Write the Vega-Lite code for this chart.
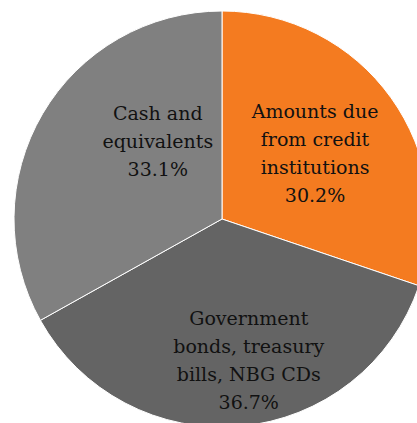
{
  "$schema": "https://vega.github.io/schema/vega-lite/v6.json",
  "width": 444,
  "height": 438,
  "autosize": "none",
  "padding": 0,
  "background": "white",
  "view": {"stroke": null},
  "data": {"values": [
    {"i": 1, "name": "Amounts due\nfrom credit\ninstitutions", "value": 30.2},
    {"i": 2, "name": "Government\nbonds, treasury\nbills, NBG CDs", "value": 36.7},
    {"i": 3, "name": "Cash and\nequivalents", "value": 33.1}
  ]},
  "transform": [
    {"stack": "value", "groupby": [], "sort": [{"field": "i", "order": "ascending"}], "as": ["v0", "v1"]},
    {"calculate": "(datum.v0 + datum.v1) / 2", "as": "mid"},
    {"calculate": "datum.name + '\\n' + format(datum.value, '.1f') + '%'", "as": "label"}
  ],
  "layer": [
    {
      "mark": {"type": "arc", "radius": 208, "stroke": "white", "strokeWidth": 1},
      "encoding": {
        "theta": {"field": "v0", "type": "quantitative", "scale": {"domain": [0, 100]}},
        "theta2": {"field": "v1"},
        "color": {
          "field": "i", "type": "nominal", "legend": null,
          "scale": {"domain": [1, 2, 3], "range": ["#F47B20", "#646464", "#808080"]}
        }
      }
    },
    {
      "transform": [{"filter": "datum.i == 1"}],
      "mark": {"type": "text", "radius": 112, "dx": 2, "dy": -42, "font": "DejaVu Serif", "fontSize": 19, "lineHeight": 28, "lineBreak": "\n", "baseline": "middle", "align": "center", "color": "#111"},
      "encoding": {"theta": {"field": "mid", "type": "quantitative", "scale": {"domain": [0, 100]}}, "text": {"field": "label"}}
    },
    {
      "transform": [{"filter": "datum.i == 2"}],
      "mark": {"type": "text", "radius": 140, "dx": 14, "dy": -39, "font": "DejaVu Serif", "fontSize": 19, "lineHeight": 28, "lineBreak": "\n", "baseline": "middle", "align": "center", "color": "#111"},
      "encoding": {"theta": {"field": "mid", "type": "quantitative", "scale": {"domain": [0, 100]}}, "text": {"field": "label"}}
    },
    {
      "transform": [{"filter": "datum.i == 3"}],
      "mark": {"type": "text", "radius": 100, "dx": 22, "dy": -54, "font": "DejaVu Serif", "fontSize": 19, "lineHeight": 28, "lineBreak": "\n", "baseline": "middle", "align": "center", "color": "#111"},
      "encoding": {"theta": {"field": "mid", "type": "quantitative", "scale": {"domain": [0, 100]}}, "text": {"field": "label"}}
    }
  ]
}
